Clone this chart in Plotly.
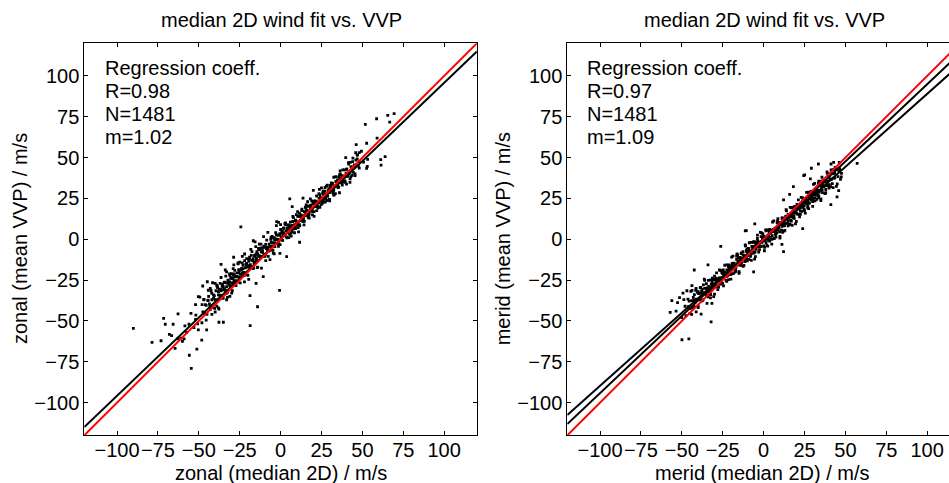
import numpy as np
import plotly.graph_objects as go

# ---------------- data (read / estimated from the reference) ----------------
axis_limits = [-120, 120]
tick_values = [-100, -75, -50, -25, 0, 25, 50, 75, 100]

# zonal: main cloud
zonal_2d_core = [
    -48, -47.5, -47, -46.5, -46, -45.5, -45, -44.5, -44, -43.5,
    -43, -42.5, -42, -41.5, -41, -40.5, -40, -39.5, -39, -38.5,
    -38, -37.5, -37, -36.5, -36, -35.5, -35, -34.5, -34, -33.5,
    -33, -32.5, -32, -31.5, -31, -30.5, -30, -29.5, -29, -28.5,
    -28, -27.5, -27, -26.5, -26, -25.5, -25, -24.5, -24, -23.5,
    -23, -22.5, -22, -21.5, -21, -20.5, -20, -19.5, -19, -18.5,
    -18, -17.5, -17, -16.5, -16, -15.5, -15, -14.5, -14, -13.5,
    -13, -12.5, -12, -11.5, -11, -10.5, -10, -9.5, -9, -8.5,
    -8, -7.5, -7, -6.5, -6, -5.5, -5, -4.5, -4, -3.5,
    -3, -2.5, -2, -1.5, -1, -0.5, 0, 0.5, 1, 1.5,
    2, 2.5, 3, 3.5, 4, 4.5, 5, 5.5, 6, 6.5,
    7, 7.5, 8, 8.5, 9, 9.5, 10, 10.5, 11, 11.5,
    12, 12.5, 13, 13.5, 14, 14.5, 15, 15.5, 16, 16.5,
    17, 17.5, 18, 18.5, 19, 19.5, 20, 20.5, 21, 21.5,
    22, 22.5, 23, 23.5, 24, 24.5, 25, 25.5, 26, 26.5,
    27, 27.5, 28, 28.5, 29, 29.5, 30, 30.5, 31, 31.5,
    32, 32.5, 33, 33.5, 34, 34.5, 35, 35.5, 36, 36.5,
    37, 37.5, 38, 38.5, 39, 39.5, 40, 40.5, 41, 41.5,
    42, 42.5, 43, 43.5, 44, 44.5, 45, 45.5, 46, 46.5,
    47, 47.5, 48]
zonal_vvp_core = [
    -40, -44.5, -37, -45.5, -40, -40.5, -46, -37.5, -35, -39.5,
    -41, -31.5, -37, -41.5, -34, -34.5, -37, -31.5, -41, -29.5,
    -34, -30.5, -27, -34.5, -31, -34.5, -29, -26.5, -31, -22.5,
    -29, -32.5, -25, -26.5, -22, -28.5, -24, -31.5, -22, -25.5,
    -19, -25.5, -23, -20.5, -26, -20.5, -14, -23.5, -18, -20.5,
    -16, -20.5, -13, -21.5, -16, -16.5, -22, -13.5, -11, -15.5,
    -17, -7.5, -13, -17.5, -10, -10.5, -13, -7.5, -17, -5.5,
    -10, -6.5, -3, -10.5, -7, -10.5, -5, -4.5, -9, -0.5,
    -7, -10.5, -3, -4.5, 0, -6.5, -2, -8.5, 1, -2.5,
    4, -2.5, 0, 2.5, -3, 2.5, 9, -0.5, 5, 2.5,
    7, 2.5, 10, 1.5, 7, 6.5, 1, 8, 10.5, 6,
    4.5, 14, 8.5, 4, 11.5, 11, 8.5, 14, 4.5, 16,
    11.5, 15, 18.5, 11, 14.5, 11, 16.5, 19, 14.5, 23,
    16.5, 13, 20.5, 19, 23.5, 17, 21.5, 14, 23.5, 20,
    26.5, 20, 22.5, 25, 19.5, 25, 31.5, 22, 27.5, 25,
    29.5, 25, 32.5, 24, 29.5, 29, 23.5, 32, 34.5, 30,
    28.5, 38, 32.5, 28, 35.5, 35, 32.5, 38, 28.5, 40,
    35.5, 39, 42.5, 35, 38.5, 35, 40.5, 43, 38.5, 47,
    40.5, 37, 44.5, 43, 47.5, 41, 45.5, 39, 48.5, 45,
    51.5, 45, 47.5]

# zonal: densest part of the cloud
zonal_2d_dense = [
    -38, -37.25, -36.5, -35.75, -35, -34.25, -33.5, -32.75, -32, -31.25,
    -30.5, -29.75, -29, -28.25, -27.5, -26.75, -26, -25.25, -24.5, -23.75,
    -23, -22.25, -21.5, -20.75, -20, -19.25, -18.5, -17.75, -17, -16.25,
    -15.5, -14.75, -14, -13.25, -12.5, -11.75, -11, -10.25, -9.5, -8.75,
    -8, -7.25, -6.5, -5.75, -5, -4.25, -3.5, -2.75, -2, -1.25,
    -0.5, 0.25, 1, 1.75, 2.5, 3.25, 4, 4.75, 5.5, 6.25,
    7, 7.75, 8.5, 9.25, 10, 10.75, 11.5, 12.25, 13, 13.75,
    14.5, 15.25, 16, 16.75, 17.5, 18.25, 19, 19.75, 20.5, 21.25,
    22, 22.75, 23.5, 24.25, 25, 25.75, 26.5, 27.25, 28, 28.75,
    29.5, 30.25, 31, 31.75, 32.5, 33.25, 34, 34.75, 35.5, 36.25,
    37, 37.75]
zonal_vvp_dense = [
    -32, -34.25, -31.5, -28.75, -31, -26.25, -31.5, -26.75, -27, -28.25,
    -23.5, -26.75, -24, -21.25, -25.5, -22.75, -23, -19.25, -23.5, -18.75,
    -18, -20.25, -17.5, -14.75, -17, -12.25, -17.5, -12.75, -13, -14.25,
    -9.5, -11.75, -9, -6.25, -10.5, -7.75, -8, -4.25, -10.5, -5.75,
    -5, -7.25, -4.5, -1.75, -4, 0.75, -4.5, 0.25, 0, -1.25,
    3.5, 1.25, 4, 6.75, 2.5, 5.25, 5, 8.75, 3, 7.75,
    8.5, 6.25, 9, 11.75, 9.5, 14.25, 9, 13.75, 13.5, 12.25,
    17, 14.75, 17.5, 20.25, 16, 18.75, 18.5, 22.25, 17, 21.75,
    22.5, 20.25, 23, 25.75, 23.5, 28.25, 23, 27.75, 27.5, 26.25,
    31, 28.75, 31.5, 34.25, 30, 32.75, 32.5, 36.25, 32, 36.75,
    37.5, 35.25]

# zonal: more of the band
zonal_2d_band = [
    -44.3, -43.2, -42.1, -41.0, -39.9, -38.8, -37.7, -36.6, -35.5, -34.4,
    -33.3, -32.2, -31.1, -30.0, -28.9, -27.8, -26.7, -25.6, -24.5, -23.4,
    -22.3, -21.2, -20.1, -19.0, -17.9, -16.8, -15.7, -14.6, -13.5, -12.4,
    -11.3, -10.2, -9.1, -8.0, -6.9, -5.8, -4.7, -3.6, -2.5, -1.4,
    -0.3, 0.8, 1.9, 3.0, 4.1, 5.2, 6.3, 7.4, 8.5, 9.6,
    10.7, 11.8, 12.9, 14.0, 15.1, 16.2, 17.3, 18.4, 19.5, 20.6,
    21.7, 22.8, 23.9, 25.0, 26.1, 27.2, 28.3, 29.4, 30.5, 31.6,
    32.7, 33.8, 34.9, 36.0, 37.1, 38.2, 39.3, 40.4, 41.5, 42.6,
    43.7]
zonal_vvp_band = [
    -37.3, -41.2, -33.1, -36, -36.9, -28.8, -36.7, -30.6, -27.5, -30.4,
    -33.3, -25.2, -26.1, -21, -26.9, -22.8, -25.7, -18.6, -21.5, -14.4,
    -22.3, -15.2, -16.1, -17, -9.9, -11.8, -14.7, -8.6, -10.5, -5.4,
    -5.3, -9.2, -3.1, -6, -6.9, 1.2, -6.7, -0.6, 2.5, -0.4,
    -3.3, 4.8, 3.9, 9, 4.1, 6.7, 3.8, 10.9, 8, 15.1,
    7.2, 14.3, 13.4, 12.5, 19.6, 17.7, 14.8, 20.9, 19, 23.1,
    23.2, 19.3, 27.4, 24.5, 23.6, 31.7, 23.8, 29.9, 33, 30.1,
    27.2, 35.3, 34.4, 39.5, 34.6, 38.7, 35.8, 42.9, 40, 47.1,
    39.2]

# zonal: outer fringe of the band
zonal_2d_halo = [
    -52, -50.7, -49.4, -48.1, -46.8, -45.5, -44.2, -42.9, -41.6, -40.3,
    -39.0, -37.7, -36.4, -35.1, -33.8, -32.5, -31.2, -29.9, -28.6, -27.3,
    -26.0, -24.7, -23.4, -22.1, -20.8, -19.5, -18.2, -16.9, -15.6, -14.3,
    -13.0, -11.7, -10.4, -9.1, -7.8, -6.5, -5.2, -3.9, -2.6, -1.3,
    0.0, 1.3, 2.6, 3.9, 5.2, 6.5, 7.8, 9.1, 10.4, 11.7,
    13.0, 14.3, 15.6, 16.9, 18.2, 19.5, 20.8, 22.1, 23.4, 24.7,
    26.0, 27.3, 28.6, 29.9, 31.2, 32.5, 33.8, 35.1, 36.4, 37.7,
    39.0, 40.3, 41.6, 42.9, 44.2, 45.5, 46.8, 48.1, 49.4, 50.7]
zonal_vvp_halo = [
    -40, -51.7, -35.4, -51.1, -36.8, -49.5, -31.2, -42.9, -26.6, -42.3,
    -28, -42.7, -23.4, -36.1, -18.8, -35.5, -21.2, -32.9, -15.6, -28.3,
    -15, -26.7, -10.4, -26.1, -11.8, -24.5, -6.2, -17.9, -1.6, -17.3,
    -3, -17.7, 1.6, -13.1, 4.2, -12.5, 1.8, -8.9, 8.4, -4.3,
    6, -0.7, 9.6, 0.9, 8.7, 2.0, 13.3, 6.6, 16.9, 8.2,
    17.5, 8.8, 21.1, 13.4, 24.7, 15.0, 23.3, 17.6, 27.9, 21.2,
    29.5, 22.8, 33.1, 24.4, 33.7, 27.0, 38.3, 31.6, 41.9, 33.2,
    42.5, 33.8, 46.1, 38.4, 49.7, 40.0, 49.3, 43.6, 53.9, 47.2]

# zonal: sparse points and outliers
zonal_2d_sparse = [
    -90, -78.6, -73.1, -71.5, -70.5, -65.7, -62.7, -68, -66.6, -64.5,
    -59, -55.8, -54.6, -51.2, -48.2, -50.3, -45.2, -44.8, -47.6, -50.3,
    -54.8, -51.8, -37.7, -35, -36.4, -28.7, -24.3, -16.7, -18.6, -14.1,
    -15, -18.7, -10.6, -0.6, -2.4, 5.6, 13.7, 20, 23.7, 11.6,
    3.7, -0.4, -15.2, 39.8, 46.2, 45.9, 52.6, 51.8, 58.7, 59,
    65.5, 66.7, 69.4, 61.2, 61.4, 63.9, 53.2, 53, 44.9, 46.8,
    48.1, 52.6, 42.4, 40.4, -1.3, 7.1, -61, -57.5, -56, -53,
    -52, -58.5, -63, -60, -42, -40, -38, -33, -31, -43,
    -40, -29, -26, -22, -33]
zonal_vvp_sparse = [
    -54.5, -63.1, -62.1, -48.4, -52, -52, -45.6, -58.2, -59, -66.8,
    -61, -71, -79, -67.2, -61.7, -55.5, -55.5, -26, -28.6, -35.1,
    -45.3, -46.4, -50.8, -50.8, -15.3, -11, 7.6, -0.9, -52.9, -41.3,
    -27, -34.5, -22.9, -31.3, 10.8, 24.8, 25.2, 30, 30.6, -1.8,
    -10.6, -8.6, -4.5, 50, 58, 53, 58.8, 70.4, 73.8, 62,
    75.9, 71.8, 77, 48.8, 45.4, 50.6, 48.9, 44.6, 44.6, 51.7,
    53.1, 43.5, 34.9, 38.8, 10.4, 20, -60.5, -57, -52, -54,
    -49, -53, -61, -62.5, -46, -44.5, -42, -37, -35, -30,
    -27, -18, -14.5, -9, -20]

# meridional: main cloud
merid_2d_core = [
    -46, -45.5, -45, -44.5, -44, -43.5,
    -43, -42.5, -42, -41.5, -41, -40.5, -40, -39.5, -39, -38.5,
    -38, -37.5, -37, -36.5, -36, -35.5, -35, -34.5, -34, -33.5,
    -33, -32.5, -32, -31.5, -31, -30.5, -30, -29.5, -29, -28.5,
    -28, -27.5, -27, -26.5, -26, -25.5, -25, -24.5, -24, -23.5,
    -23, -22.5, -22, -21.5, -21, -20.5, -20, -19.5, -19, -18.5,
    -18, -17.5, -17, -16.5, -16, -15.5, -15, -14.5, -14, -13.5,
    -13, -12.5, -12, -11.5, -11, -10.5, -10, -9.5, -9, -8.5,
    -8, -7.5, -7, -6.5, -6, -5.5, -5, -4.5, -4, -3.5,
    -3, -2.5, -2, -1.5, -1, -0.5, 0, 0.5, 1, 1.5,
    2, 2.5, 3, 3.5, 4, 4.5, 5, 5.5, 6, 6.5,
    7, 7.5, 8, 8.5, 9, 9.5, 10, 10.5, 11, 11.5,
    12, 12.5, 13, 13.5, 14, 14.5, 15, 15.5, 16, 16.5,
    17, 17.5, 18, 18.5, 19, 19.5, 20, 20.5, 21, 21.5,
    22, 22.5, 23, 23.5, 24, 24.5, 25, 25.5, 26, 26.5,
    27, 27.5, 28, 28.5, 29, 29.5, 30, 30.5, 31, 31.5,
    32, 32.5, 33, 33.5, 34, 34.5, 35, 35.5, 36, 36.5,
    37, 37.5, 38, 38.5, 39, 39.5, 40, 40.5, 41, 41.5,
    42, 42.5, 43, 43.5, 44, 44.5, 45, 45.5, 46, 46.5,
    47]
merid_vvp_core = [
    -41.3, -37.9, -42.4, -31.9, -37.5, -42.0, -35.6, -37.1, -38.6, -31.2,
    -36.7, -32.3, -40.8, -33.3, -36.9, -29.4, -33.0, -30.5, -37.0, -32.6,
    -25.1, -32.7, -27.2, -30.7, -35.3, -30.8, -33.4, -24.9, -27.4, -30.0,
    -24.5, -35.1, -24.6, -29.1, -25.7, -24.2, -30.8, -25.3, -18.8, -27.4,
    -24.9, -19.5, -21.0, -28.5, -22.1, -20.6, -25.2, -15.7, -22.2, -16.8,
    -20.3, -16.9, -21.4, -10.9, -16.5, -21.0, -14.6, -16.1, -17.6, -10.2,
    -15.7, -11.3, -19.8, -12.3, -15.9, -8.4, -12.0, -9.5, -16.0, -11.6,
    -4.1, -11.7, -6.2, -7.7, -12.3, -7.8, -10.4, -1.9, -4.4, -7.0,
    -1.5, -12.1, -1.6, -6.1, -2.7, -1.2, -7.8, -2.3, 4.2, -4.4,
    -1.9, 3.5, 2.0, -7.0, -0.6, 0.9, -3.7, 5.8, -0.7, 4.7,
    1.2, 4.6, 0.1, 10.6, 5.0, 0.5, 6.9, 5.4, 3.9, 11.3,
    5.8, 10.2, 1.7, 9.2, 5.6, 13.1, 9.5, 12.0, 5.5, 9.9,
    17.4, 9.8, 15.3, 13.8, 9.2, 13.7, 11.1, 19.6, 17.1, 14.5,
    20.0, 9.4, 19.9, 15.4, 18.8, 20.3, 13.7, 19.2, 25.7, 17.1,
    19.6, 25.0, 23.5, 16.0, 22.4, 23.9, 19.3, 28.8, 22.3, 27.7,
    24.2, 27.6, 23.1, 33.6, 28.0, 23.5, 29.9, 28.4, 26.9, 34.3,
    28.8, 33.2, 24.7, 32.2, 28.6, 36.1, 32.5, 35.0, 28.5, 32.9,
    40.4, 32.8, 38.3, 36.8, 32.2, 36.7, 34.1, 42.6, 40.1, 37.5,
    43.0, 32.4, 42.9, 38.4, 41.8, 43.3, 36.7]

# meridional: densest part of the cloud
merid_2d_dense = [
    -36, -35.25, -34.5, -33.75, -33, -32.25, -31.5, -30.75, -30, -29.25,
    -28.5, -27.75, -27, -26.25, -25.5, -24.75, -24, -23.25, -22.5, -21.75,
    -21, -20.25, -19.5, -18.75, -18, -17.25, -16.5, -15.75, -15, -14.25,
    -13.5, -12.75, -12, -11.25, -10.5, -9.75, -9, -8.25, -7.5, -6.75,
    -6, -5.25, -4.5, -3.75, -3, -2.25, -1.5, -0.75, 0, 0.75,
    1.5, 2.25, 3, 3.75, 4.5, 5.25, 6, 6.75, 7.5, 8.25,
    9, 9.75, 10.5, 11.25, 12, 12.75, 13.5, 14.25, 15, 15.75,
    16.5, 17.25, 18, 18.75, 19.5, 20.25, 21, 21.75, 22.5, 23.25,
    24, 24.75, 25.5, 26.25, 27, 27.75, 28.5, 29.25, 30, 30.75,
    31.5, 32.25, 33, 33.75, 34.5, 35.25, 36, 36.75]
merid_vvp_dense = [
    -30.1, -33.4, -29.7, -32.1, -30.4, -31.7, -26.0, -27.3, -28.6, -24.9,
    -28.2, -25.5, -23.8, -27.2, -20.5, -23.8, -20.1, -21.4, -22.7, -19.0,
    -18.3, -21.6, -15.9, -18.3, -16.6, -17.9, -12.2, -13.5, -14.8, -11.1,
    -14.4, -11.7, -10.0, -13.4, -6.7, -10.0, -6.3, -7.6, -8.9, -5.2,
    -4.5, -7.8, -2.1, -4.5, -2.8, -4.1, 1.6, 0.3, -1.0, 1.2,
    -2.1, 0.6, 2.3, -1.1, 5.6, 2.3, 6.0, 4.7, 3.4, 7.1,
    7.8, 4.5, 10.2, 7.9, 9.5, 8.2, 13.9, 12.6, 11.3, 15.0,
    11.7, 14.4, 16.1, 12.8, 19.4, 16.1, 19.8, 18.5, 17.2, 20.9,
    21.6, 18.3, 24.0, 21.7, 23.3, 22.0, 27.7, 26.4, 25.1, 28.8,
    25.5, 28.2, 29.9, 26.6, 33.2, 29.9, 33.6, 32.3]

# meridional: more of the band
merid_2d_band = [
    -42.3, -41.2, -40.1, -39.0, -37.9, -36.8, -35.7, -34.6, -33.5, -32.4,
    -31.3, -30.2, -29.1, -28.0, -26.9, -25.8, -24.7, -23.6, -22.5, -21.4,
    -20.3, -19.2, -18.1, -17.0, -15.9, -14.8, -13.7, -12.6, -11.5, -10.4,
    -9.3, -8.2, -7.1, -6.0, -4.9, -3.8, -2.7, -1.6, -0.5, 0.6,
    1.7, 2.8, 3.9, 5.0, 6.1, 7.2, 8.3, 9.4, 10.5, 11.6,
    12.7, 13.8, 14.9, 16.0, 17.1, 18.2, 19.3, 20.4, 21.5, 22.6,
    23.7, 24.8, 25.9, 27.0, 28.1, 29.2, 30.3, 31.4, 32.5, 33.6,
    34.7, 35.8, 36.9, 38.0, 39.1, 40.2, 41.3, 42.4, 43.5]
merid_vvp_band = [
    -33.9, -36.9, -32.9, -36.9, -31.9, -27.9, -32.8, -31.8, -28.8, -33.8,
    -23.8, -28.8, -23.8, -28.8, -23.7, -25.7, -18.7, -21.7, -18.7, -24.7,
    -19.7, -14.7, -15.7, -19.6, -9.6, -15.6, -12.6, -7.6, -13.6, -7.6,
    -5.6, -8.5, -4.5, -8.5, -3.5, 0.5, -4.5, -1.5, 1.5, -5.0,
    5.1, 0.1, 5.1, 0.1, 5.1, 3.1, 10.1, 7.2, 10.2, 4.2,
    9.2, 14.2, 13.2, 9.2, 19.2, 13.2, 16.3, 21.3, 15.3, 21.3,
    23.3, 20.3, 24.3, 20.3, 25.4, 29.4, 24.4, 27.4, 30.4, 25.4,
    35.4, 30.4, 35.5, 30.5, 35.5, 33.5, 40.5, 37.5, 40.5]

# meridional: outer fringe of the band
merid_2d_halo = [
    -50, -48.75, -47.5, -46.25, -45, -43.75, -42.5, -41.25, -40, -38.75,
    -37.5, -36.25, -35, -33.75, -32.5, -31.25, -30, -28.75, -27.5, -26.25,
    -25, -23.75, -22.5, -21.25, -20, -18.75, -17.5, -16.25, -15, -13.75,
    -12.5, -11.25, -10, -8.75, -7.5, -6.25, -5, -3.75, -2.5, -1.25,
    0, 1.25, 2.5, 3.75, 5, 6.25, 7.5, 8.75, 10, 11.25,
    12.5, 13.75, 15, 16.25, 17.5, 18.75, 20, 21.25, 22.5, 23.75,
    25, 26.25, 27.5, 28.75, 30, 31.25, 32.5, 33.75, 35, 36.25,
    37.5, 38.75, 40, 41.25, 42.5, 43.75, 45, 46.25, 47.5]
merid_vvp_halo = [
    -48, -36.9, -46.7, -36.6, -45.4, -31.3, -41.1, -30.0, -41.8, -29.7,
    -37.5, -24.4, -34.2, -25.1, -35.9, -24.8, -33.6, -20.5, -29.3, -19.2,
    -27, -15.9, -25.7, -15.6, -24.4, -10.3, -20.1, -9.0, -20.8, -8.7,
    -16.5, -3.4, -13.2, -2.1, -12.9, -1.8, -10.6, 2.6, -6.3, 3.9,
    -4, 5.7, -4.2, 6.0, -2.9, 11.3, 1.4, 12.6, 0.7, 12.9,
    5.0, 18.2, 8.3, 19.5, 8.6, 19.8, 10.9, 24.1, 15.2, 25.4,
    17.5, 28.7, 18.8, 29.0, 20.1, 34.3, 24.4, 35.6, 23.7, 35.9,
    28.0, 41.2, 31.3, 42.5, 31.6, 42.8, 33.9, 47.1, 38.2]

# meridional: sparse points and outliers
merid_2d_sparse = [
    -56.1, -57.1, -49.9, -45.7, -32.1, -38.2, -41.2, -52.6, -49.3, -42.4,
    -34, -26.2, -11.2, -5.4, 12.2, 23.9, 33.5, 42.8, 41.2, 57.2,
    45.9, 44.9, 41.1, 24.5, 18.2, 12.2, 47.6, 43.7, -51.4, -43.8,
    -46.9, -31.6, -34.6, -38.1, -30, -6.1, -10.6, 25.1, 29.2, 15.9,
    11.2, 28.6, 35.7, -53.5, -48, -44, -40]
merid_vvp_sparse = [
    -37.6, -44.7, -61.5, -61, -50.6, -45.8, -44.4, -38.8, -33, -18.8,
    -15.7, -4.3, 5.1, 9.4, -7.6, 6.5, 46.1, 47.1, 46.1, 46.5,
    29.8, 26, 21.2, 39, 32.2, 24.1, 40.4, 44, -35.7, -28.4,
    -31.5, -39.2, -39.2, -37.8, -22.5, -20, 5.3, 39.4, 43.5, 27.5,
    -3.1, 37, 38, -44, -41, -46, -32]

# regression lines (slope, intercept) and the 1:1 reference line
zonal_fit_slopes = [0.958]
zonal_fit_icepts = [0.0]
merid_fit_slopes = [0.894, 0.946]
merid_fit_icepts = [-0.3, 0.4]
identity_slope = 1.0

zonal_stats = ["Regression coeff.", "R=0.98", "N=1481", "m=1.02"]
merid_stats = ["Regression coeff.", "R=0.97", "N=1481", "m=1.09"]
panel_title = "median 2D wind fit vs. VVP"

pairs = [(zonal_2d_core, zonal_vvp_core), (zonal_2d_dense, zonal_vvp_dense),
         (zonal_2d_band, zonal_vvp_band), (zonal_2d_halo, zonal_vvp_halo),
         (zonal_2d_sparse, zonal_vvp_sparse),
         (merid_2d_core, merid_vvp_core), (merid_2d_dense, merid_vvp_dense),
         (merid_2d_band, merid_vvp_band), (merid_2d_halo, merid_vvp_halo),
         (merid_2d_sparse, merid_vvp_sparse)]
for a, b in pairs:
    if len(a) != len(b):
        raise ValueError(f"length mismatch {len(a)} vs {len(b)}")

zonal_x = zonal_2d_core + zonal_2d_dense + zonal_2d_band + zonal_2d_halo + zonal_2d_sparse
zonal_y = zonal_vvp_core + zonal_vvp_dense + zonal_vvp_band + zonal_vvp_halo + zonal_vvp_sparse
merid_x = merid_2d_core + merid_2d_dense + merid_2d_band + merid_2d_halo + merid_2d_sparse
merid_y = merid_vvp_core + merid_vvp_dense + merid_vvp_band + merid_vvp_halo + merid_vvp_sparse

# ---------------- figure ----------------
W, H = 949, 483
FONT = "Liberation Sans, Arial, Helvetica, sans-serif"
FS = 20

fig = go.Figure()
line_x = np.array(axis_limits, dtype=float)

def add_panel(xs, ys, slopes, icepts, xa, ya):
    fig.add_trace(go.Scatter(
        x=xs, y=ys, mode="markers", xaxis=xa, yaxis=ya, showlegend=False,
        marker=dict(symbol="square", size=2.8, color="black", line=dict(width=0)),
        hoverinfo="skip"))
    for s, c in zip(slopes, icepts):
        fig.add_trace(go.Scatter(
            x=line_x, y=s * line_x + c, mode="lines", xaxis=xa, yaxis=ya,
            showlegend=False, line=dict(color="black", width=2), hoverinfo="skip"))
    fig.add_trace(go.Scatter(
        x=line_x, y=identity_slope * line_x, mode="lines", xaxis=xa, yaxis=ya,
        showlegend=False, line=dict(color="#ff0000", width=2), hoverinfo="skip"))

add_panel(zonal_x, zonal_y, zonal_fit_slopes, zonal_fit_icepts, "x", "y")
add_panel(merid_x, merid_y, merid_fit_slopes, merid_fit_icepts, "x2", "y2")

def px2fx(px):
    return px / W

def py2fy(py):
    return 1 - py / H

ydom = [py2fy(435.3), py2fy(43.3)]
left_dom = [px2fx(84.3), px2fx(476.9)]
right_dom = [px2fx(567.3), 1.0]
right_xmax = axis_limits[0] + (W - 567.3) / (392.6 / 240.0)

axis_common = dict(
    showgrid=False, zeroline=False, showline=True, linecolor="black", linewidth=1,
    ticks="inside", ticklen=4, tickwidth=1, tickcolor="black",
    tickvals=tick_values, automargin=False, tickangle=0,
    tickfont=dict(family=FONT, size=FS, color="black"),
)

fig.update_layout(
    width=W, height=H, template="none",
    paper_bgcolor="white", plot_bgcolor="white",
    margin=dict(l=0, r=0, t=0, b=0),
    showlegend=False,
    xaxis=dict(axis_common, domain=left_dom, range=axis_limits, mirror="ticks",
               anchor="y", ticklabelstandoff=-3),
    yaxis=dict(axis_common, domain=ydom, range=axis_limits, mirror="ticks",
               anchor="x"),
    xaxis2=dict(axis_common, domain=right_dom, range=[axis_limits[0], right_xmax],
                mirror="ticks", anchor="y2", ticklabelstandoff=-3),
    yaxis2=dict(axis_common, domain=ydom, range=axis_limits, mirror=False,
                anchor="x2"),
)

ann = []
def text(x, y, s, **kw):
    d = dict(x=x, y=y, xref="paper", yref="paper", text=s, showarrow=False,
             font=dict(family=FONT, size=FS, color="black"))
    d.update(kw)
    ann.append(d)

# panel titles
text(px2fx(281.5), py2fy(20), panel_title, xanchor="center", yanchor="middle")
text(px2fx(764.2), py2fy(20), panel_title, xanchor="center", yanchor="middle")
# axis titles
text(px2fx(280.8), py2fy(472.5), "zonal (median 2D) / m/s", xanchor="center", yanchor="middle")
text(px2fx(762.5), py2fy(472.5), "merid (median 2D) / m/s", xanchor="center", yanchor="middle")
text(px2fx(20), py2fy(239), "zonal (mean VVP) / m/s", xanchor="center", yanchor="middle", textangle=-90)
text(px2fx(503.3), py2fy(239), "merid (mean VVP) / m/s", xanchor="center", yanchor="middle", textangle=-90)
# regression statistics
for i, ys_ in enumerate([68.3, 90.7, 114.3, 136.7]):
    text(px2fx(103.3), py2fy(ys_), zonal_stats[i], xanchor="left", yanchor="middle")
    text(px2fx(585.3), py2fy(ys_), merid_stats[i], xanchor="left", yanchor="middle")

fig.update_layout(annotations=ann)
fig.write_html(
    "out.html",
    config={"displayModeBar": False},
    post_script="document.body.style.margin='0px';document.body.style.overflow='hidden';",
)
